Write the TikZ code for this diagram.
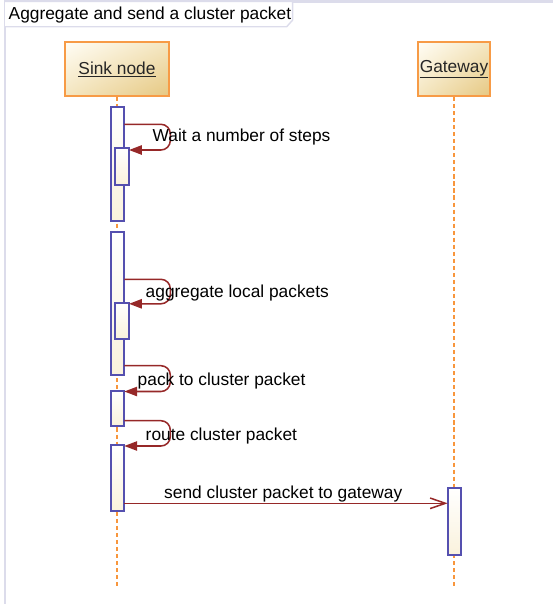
\documentclass[tikz,border=0pt]{standalone}
\usepackage{fontspec}
\setmainfont{Liberation Sans}
\usepackage{xcolor}
\usepackage{tikz}
\usetikzlibrary{arrows.meta, shadings}

\definecolor{headorange}{RGB}{247,155,70}
\definecolor{headlight}{RGB}{255,253,245}
\definecolor{headmid}{RGB}{244,230,192}
\definecolor{headtan}{RGB}{230,200,130}
\definecolor{barblue}{RGB}{85,80,175}
\definecolor{barcream}{RGB}{250,242,220}
\definecolor{msgred}{RGB}{150,40,40}
\definecolor{lifeorange}{RGB}{248,150,60}
\definecolor{framegray}{RGB}{220,220,235}

\begin{document}
\begin{tikzpicture}[x=0.03cm, y=-0.03cm,
        every node/.style={font=\fontsize{14.8}{17}\selectfont},
        head/.style={draw=headorange, line width=1.5pt, upper left=headlight, upper right=headmid,
            lower left=headmid, lower right=headtan, minimum height=1.62cm, inner sep=0pt, text=black!85},
        lifeline/.style={draw=lifeorange, line width=1.7pt, dash pattern=on 3.5pt off 2.5pt},
        actbar/.style={draw=barblue, line width=1.5pt, top color=white, bottom color=barcream,
            minimum width=0.41cm, inner sep=0pt},
        selfmsg/.style={draw=msgred, line width=1.3pt, rounded corners=8pt, -{Triangle[length=11pt, width=8pt]}},
        asyncmsg/.style={draw=msgred, line width=1.3pt, -{Straight Barb[length=13pt, width=9pt]}},
        msglabel/.style={anchor=base west, inner sep=0pt}]
        \useasboundingbox (0,0) rectangle (553,604);
        % frame and title
        \draw[framegray, line width=1.8pt] (5,604) -- (5,1.5) -- (553,1.5);
        \draw[draw=framegray, fill=white, line width=1.2pt] (5,1.5) -- (292.7,1.5) -- (292.7,20) -- (286.7,26.7) -- (5,26.7);
        \node[msglabel] (title) at (8.5,19) {Aggregate and send a cluster packet};
        % lifelines
        \coordinate (sinkend) at (117,588);
        \coordinate (gatewayend) at (454,588);
        \node[head, minimum width=3.12cm] (sink) at (117,69.2) {\underline{Sink node}};
        \node[head, minimum width=2.14cm] (gateway) at (454,69.2) {\underline{Gateway}};
        \draw[lifeline] (sink.south) -- (sinkend);
        \draw[lifeline] (gateway.south) -- (gatewayend);
        % activations
        \node[actbar, minimum height=3.42cm] (b1) at (117.5,163.7) {};
        \node[actbar, minimum height=1.11cm] (b1a) at (122.2,166.8) {};
        \node[actbar, minimum height=4.28cm] (b2) at (117.5,303.7) {};
        \node[actbar, minimum height=1.07cm] (b2a) at (122.2,321.2) {};
        \node[actbar, minimum height=1.07cm] (b3) at (117.5,408.5) {};
        \node[actbar, minimum height=1.98cm] (b4) at (117.5,478.3) {};
        \node[actbar, minimum height=2.02cm] (g1) at (454.5,521.4) {};
        % messages
        \coordinate (w1) at (124.3,124.3);
        \coordinate (w2) at (129,150);
        \coordinate (a1) at (124.3,279.3);
        \coordinate (a2) at (129,303.8);
        \coordinate (p1) at (124.3,365.7);
        \coordinate (p2) at (124.3,391.5);
        \coordinate (r1) at (124.3,420.7);
        \coordinate (r2) at (124.3,446);
        \coordinate (s1) at (124.3,503.3);
        \coordinate (s2) at (447.7,503.3);
        \draw[selfmsg] (w1) -- ++(46,0) -- ++(0,25.7) -- (w2);
        \draw[selfmsg] (a1) -- ++(46,0) -- ++(0,24.5) -- (a2);
        \draw[selfmsg] (p1) -- ++(46,0) -- ++(0,25.8) -- (p2);
        \draw[selfmsg] (r1) -- ++(46,0) -- ++(0,25.3) -- (r2);
        \draw[asyncmsg] (s1) -- (s2);
        \node[msglabel] (waitlbl) at (152.5,141.7) {Wait a number of steps};
        \node[msglabel] (aggrlbl) at (145.5,297) {aggregate local packets};
        \node[msglabel] (packlbl) at (137.5,385.5) {pack to cluster packet};
        \node[msglabel] (routelbl) at (145.5,440) {route cluster packet};
        \node[msglabel] (sendlbl) at (164,498.3) {send cluster packet to gateway};
    \end{tikzpicture}
\end{document}
